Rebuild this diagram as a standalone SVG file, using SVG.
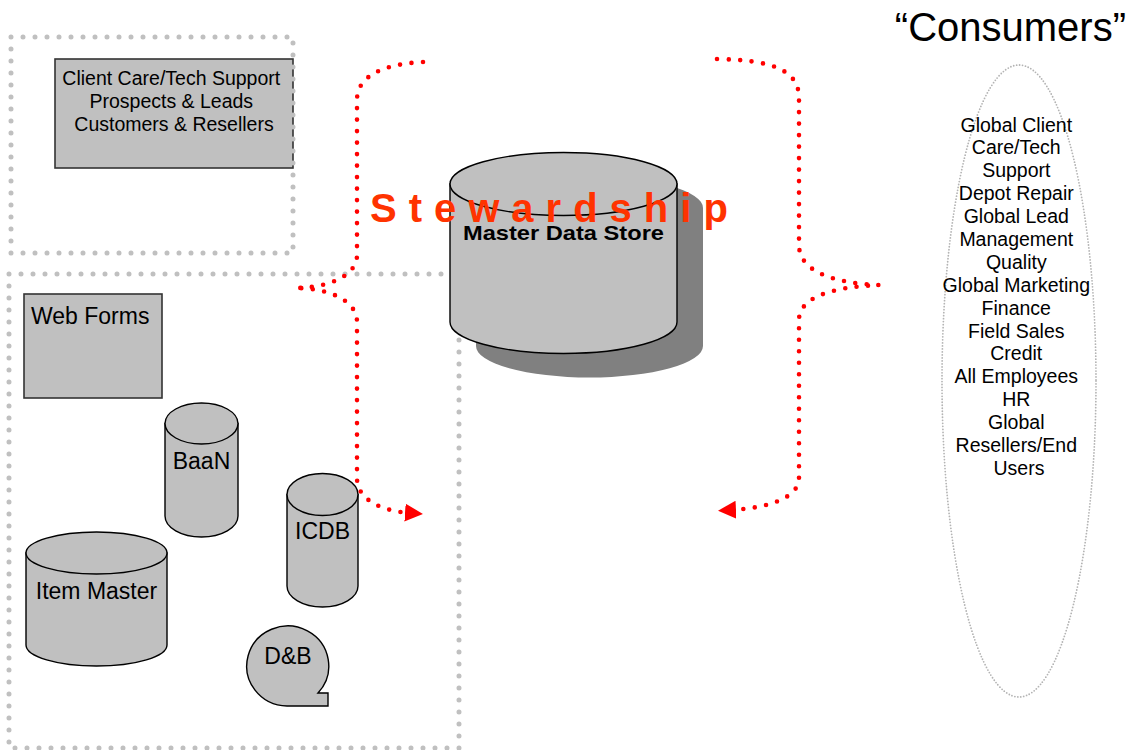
<svg xmlns="http://www.w3.org/2000/svg" width="1135" height="750" viewBox="0 0 1135 750">
<style>
.zone{fill:none;stroke:#c0c0c0;stroke-width:5;stroke-linecap:round;stroke-dasharray:0 12}
.shape{fill:#c0c0c0;stroke:#000;stroke-width:1.4}
.box{fill:#c0c0c0;stroke:#333;stroke-width:1.6}
.lbl{font-family:"Liberation Sans",Arial,sans-serif;fill:#000}
.brace{fill:none;stroke:#ff0000;stroke-width:4.6;stroke-linecap:round;stroke-dasharray:0 11.5}
</style>
<defs>
<marker id="arr" markerUnits="userSpaceOnUse" markerWidth="20" markerHeight="20" refX="5" refY="9" orient="auto">
<path d="M0,0 L18,9 L0,18 Z" fill="#ff0000"/>
</marker>
</defs>
<rect width="1135" height="750" fill="#fff"/>

<g id="sources-top">
<rect class="box" x="55" y="59" width="238" height="109"/>
<text class="lbl" font-size="19.5" text-anchor="middle">
<tspan x="174" y="85">Client Care/Tech Support</tspan>
<tspan x="174" y="108">Prospects &amp; Leads</tspan>
<tspan x="174" y="131">Customers &amp; Resellers</tspan>
</text>
<rect class="zone" x="11" y="37" width="282" height="216"/>
</g>

<g id="sources-bottom">
<rect class="zone" x="9" y="274" width="450" height="474"/>
</g>

<g id="web-forms">
<rect class="box" x="24" y="294" width="138" height="104"/>
<text class="lbl" x="31" y="324" font-size="23">Web Forms</text>
</g>

<g id="baan">
<path class="shape" d="M165,423.5 L165,516 A36.5,21 0 0 0 238,516 L238,423.5 Z"/>
<ellipse class="shape" cx="201.5" cy="423.5" rx="36.5" ry="20.5"/>
<text class="lbl" x="201.5" y="469" font-size="23" text-anchor="middle">BaaN</text>
</g>

<g id="icdb">
<path class="shape" d="M287,494.5 L287,586 A35.5,21 0 0 0 358,586 L358,494.5 Z"/>
<ellipse class="shape" cx="322.5" cy="494.5" rx="35.5" ry="21"/>
<text class="lbl" x="322.5" y="539" font-size="23" text-anchor="middle">ICDB</text>
</g>

<g id="item-master">
<path class="shape" d="M26,553 L26,645 A70.5,21 0 0 0 167,645 L167,553 Z"/>
<ellipse class="shape" cx="96.5" cy="553" rx="70.5" ry="21"/>
<text class="lbl" x="96.5" y="599" font-size="23" text-anchor="middle">Item Master</text>
</g>

<g id="dnb">
<path class="shape" d="M287,706 A41,40 0 1 1 318,693 L328,693 L328,706 Z"/>
<text class="lbl" x="288" y="664" font-size="23" text-anchor="middle">D&amp;B</text>
</g>

<g id="master-data-store">
<path d="M476,208 L476,346 A113.5,31.5 0 0 0 703,346 L703,208 A113.5,31.5 0 0 0 476,208 Z" fill="#808080"/>
<path class="shape" d="M450,184 L450,322 A113.5,31.5 0 0 0 677,322 L677,184 Z"/>
<ellipse class="shape" cx="563.5" cy="184" rx="113.5" ry="31.5"/>
<text class="lbl" x="563.5" y="240" font-size="20.5" font-weight="bold" text-anchor="middle" textLength="201" lengthAdjust="spacingAndGlyphs">Master Data Store</text>
</g>

<g id="connectors">
<path class="brace" marker-end="url(#arr)" d="M423,62 C385,64 357,75 357,100 L357,255 C357,276 328,288 295,288 C328,288 357,300 357,322 L357,478 C357,500 382,511 410,513"/>
<path class="brace" marker-end="url(#arr)" d="M717,59 C772,60 799,70 799,98 L799,245 C799,270 830,283 879,285 C830,287 799,298 799,320 L799,478 C799,498 768,508 731,510"/>
</g>

<g id="stewardship">
<text x="370" y="222" font-family="'Liberation Sans',Arial,sans-serif" font-size="40" font-weight="bold" fill="#ff3300" letter-spacing="12">Stewardship</text>
</g>

<g id="consumers">
<text class="lbl" x="1126" y="41" font-size="40" text-anchor="end">“Consumers”</text>
<ellipse cx="1019" cy="381" rx="77" ry="316" fill="none" stroke="#b4b4b4" stroke-width="1.8" stroke-linecap="round" stroke-dasharray="0 3"/>
<text class="lbl" font-size="19.5" text-anchor="middle">
<tspan x="1019" y="131.5">Global Client</tspan>
<tspan x="1019" dy="22.9">Care/Tech</tspan>
<tspan x="1019" dy="22.9">Support</tspan>
<tspan x="1019" dy="22.9">Depot Repair</tspan>
<tspan x="1019" dy="22.9">Global Lead</tspan>
<tspan x="1019" dy="22.9">Management</tspan>
<tspan x="1019" dy="22.9">Quality</tspan>
<tspan x="1019" dy="22.9">Global Marketing</tspan>
<tspan x="1019" dy="22.9">Finance</tspan>
<tspan x="1019" dy="22.9">Field Sales</tspan>
<tspan x="1019" dy="22.9">Credit</tspan>
<tspan x="1019" dy="22.9">All Employees</tspan>
<tspan x="1019" dy="22.9">HR</tspan>
<tspan x="1019" dy="22.9">Global</tspan>
<tspan x="1019" dy="22.9">Resellers/End</tspan>
<tspan x="1019" dy="22.9">Users</tspan>
</text>
</g>
</svg>
